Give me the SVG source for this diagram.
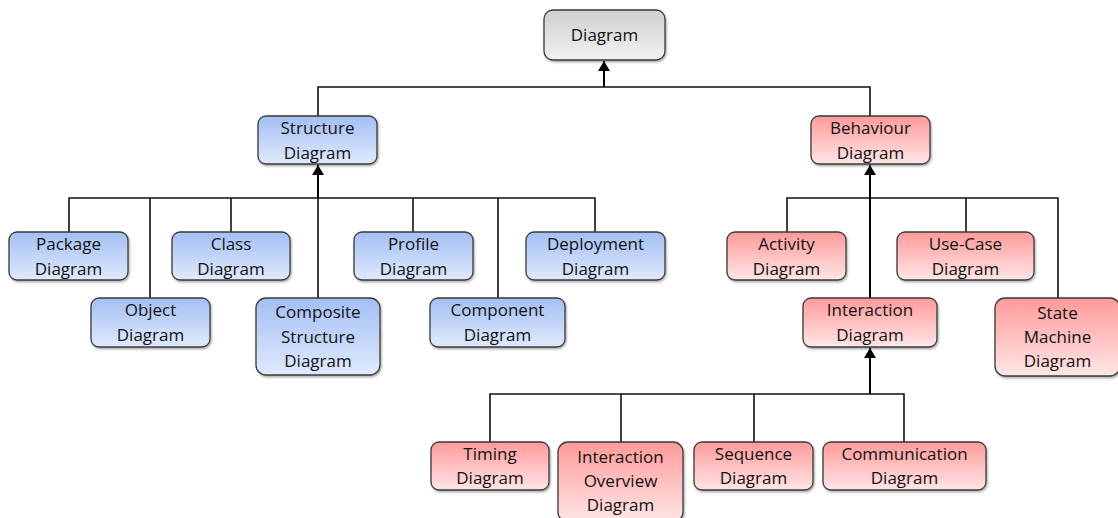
<svg xmlns="http://www.w3.org/2000/svg" width="1118" height="518" viewBox="0 0 1118 518">
  <defs>
    <linearGradient id="gGray" x1="0" y1="0" x2="0" y2="1">
      <stop offset="0" stop-color="#cfcfcf"/>
      <stop offset="1" stop-color="#f2f2f2"/>
    </linearGradient>
    <linearGradient id="gBlue" x1="0" y1="0" x2="0" y2="1">
      <stop offset="0" stop-color="#a3bff3"/>
      <stop offset="1" stop-color="#e0eafd"/>
    </linearGradient>
    <linearGradient id="gRed" x1="0" y1="0" x2="0" y2="1">
      <stop offset="0" stop-color="#ff9a9a"/>
      <stop offset="1" stop-color="#ffe6e6"/>
    </linearGradient>
    <filter id="shadow" x="-10%" y="-10%" width="130%" height="140%">
      <feDropShadow dx="1" dy="1.5" stdDeviation="1" flood-color="#000" flood-opacity="0.35"/>
    </filter>
    <!-- filled triangular head, tip at the end of the line -->
    <marker id="arrow" markerUnits="userSpaceOnUse" markerWidth="12" markerHeight="12" viewBox="0 0 10 12" refX="10" refY="6" orient="auto">
      <path d="M0,0 L10,6 L0,12 Z" fill="#000"/>
    </marker>
  </defs>
  <style>
    .box { stroke: #3a3a3a; stroke-width: 1.3; filter: url(#shadow); }
    .gray { fill: url(#gGray); }
    .blue { fill: url(#gBlue); }
    .red { fill: url(#gRed); }
    text { font-family: "Open Sans", "Liberation Sans", sans-serif; font-size: 17px; fill: #111; text-anchor: middle; }
    .line { fill: none; stroke: #111; stroke-width: 1.6; }
    .shaft { fill: none; stroke: #000; stroke-width: 2; }
  </style>

  <!-- connectors -->
  <g id="connectors">
    <!-- root level -->
    <path class="line" d="M318,116 V87 H870 V116"/>
    <line class="shaft" x1="604" y1="87" x2="604" y2="61" marker-end="url(#arrow)"/>
    <!-- structure children -->
    <path class="line" d="M69,232 V198 H595 V232"/>
    <line class="line" x1="150" y1="198" x2="150" y2="298"/>
    <line class="line" x1="231" y1="198" x2="231" y2="232"/>
    <line class="line" x1="318" y1="198" x2="318" y2="298"/>
    <line class="line" x1="413" y1="198" x2="413" y2="232"/>
    <line class="line" x1="498" y1="198" x2="498" y2="298"/>
    <line class="shaft" x1="318" y1="198" x2="318" y2="165" marker-end="url(#arrow)"/>
    <!-- behaviour children -->
    <path class="line" d="M787,232 V198 H1058 V298"/>
    <line class="line" x1="966" y1="198" x2="966" y2="232"/>
    <line class="shaft" x1="870" y1="298" x2="870" y2="165" marker-end="url(#arrow)"/>
    <!-- interaction children -->
    <path class="line" d="M490,442 V394 H904 V442"/>
    <line class="line" x1="621" y1="394" x2="621" y2="442"/>
    <line class="line" x1="754" y1="394" x2="754" y2="442"/>
    <line class="shaft" x1="870" y1="394" x2="870" y2="348" marker-end="url(#arrow)"/>
  </g>

  <!-- root -->
  <g id="diagram">
    <rect class="box gray" x="544" y="10" width="121" height="50" rx="9"/>
    <text x="604.5" y="41">Diagram</text>
  </g>

  <!-- structure branch -->
  <g id="structure-diagram">
    <rect class="box blue" x="258" y="116" width="119" height="48" rx="8"/>
    <text x="317.5" y="134">Structure</text>
    <text x="317.5" y="159">Diagram</text>
  </g>
  <g id="package-diagram">
    <rect class="box blue" x="9" y="232" width="119" height="48" rx="8"/>
    <text x="68.5" y="250">Package</text>
    <text x="68.5" y="275">Diagram</text>
  </g>
  <g id="object-diagram">
    <rect class="box blue" x="91" y="298" width="119" height="49" rx="8"/>
    <text x="150.5" y="316">Object</text>
    <text x="150.5" y="341">Diagram</text>
  </g>
  <g id="class-diagram">
    <rect class="box blue" x="172" y="232" width="118" height="48" rx="8"/>
    <text x="231" y="250">Class</text>
    <text x="231" y="275">Diagram</text>
  </g>
  <g id="composite-structure-diagram">
    <rect class="box blue" x="256" y="298" width="124" height="77" rx="10"/>
    <text x="318" y="318">Composite</text>
    <text x="318" y="343">Structure</text>
    <text x="318" y="367">Diagram</text>
  </g>
  <g id="profile-diagram">
    <rect class="box blue" x="354" y="232" width="119" height="48" rx="8"/>
    <text x="413.5" y="250">Profile</text>
    <text x="413.5" y="275">Diagram</text>
  </g>
  <g id="component-diagram">
    <rect class="box blue" x="430" y="298" width="135" height="49" rx="8"/>
    <text x="497.5" y="316">Component</text>
    <text x="497.5" y="341">Diagram</text>
  </g>
  <g id="deployment-diagram">
    <rect class="box blue" x="526" y="232" width="139" height="48" rx="8"/>
    <text x="595.5" y="250">Deployment</text>
    <text x="595.5" y="275">Diagram</text>
  </g>

  <!-- behaviour branch -->
  <g id="behaviour-diagram">
    <rect class="box red" x="811" y="116" width="119" height="48" rx="8"/>
    <text x="870.5" y="134">Behaviour</text>
    <text x="870.5" y="159">Diagram</text>
  </g>
  <g id="activity-diagram">
    <rect class="box red" x="727" y="232" width="119" height="48" rx="8"/>
    <text x="786.5" y="250">Activity</text>
    <text x="786.5" y="275">Diagram</text>
  </g>
  <g id="use-case-diagram">
    <rect class="box red" x="897" y="232" width="137" height="48" rx="8"/>
    <text x="965.5" y="250">Use-Case</text>
    <text x="965.5" y="275">Diagram</text>
  </g>
  <g id="interaction-diagram">
    <rect class="box red" x="803" y="298" width="134" height="49" rx="8"/>
    <text x="870" y="316">Interaction</text>
    <text x="870" y="341">Diagram</text>
  </g>
  <g id="state-machine-diagram">
    <rect class="box red" x="995" y="298" width="125" height="78" rx="10"/>
    <text x="1057.5" y="319">State</text>
    <text x="1057.5" y="343">Machine</text>
    <text x="1057.5" y="367">Diagram</text>
  </g>

  <!-- interaction branch -->
  <g id="timing-diagram">
    <rect class="box red" x="431" y="442" width="118" height="48" rx="8"/>
    <text x="490" y="460">Timing</text>
    <text x="490" y="484">Diagram</text>
  </g>
  <g id="interaction-overview-diagram">
    <rect class="box red" x="558" y="442" width="125" height="80" rx="10"/>
    <text x="620.5" y="463">Interaction</text>
    <text x="620.5" y="487">Overview</text>
    <text x="620.5" y="511">Diagram</text>
  </g>
  <g id="sequence-diagram">
    <rect class="box red" x="694" y="442" width="119" height="48" rx="8"/>
    <text x="753.5" y="460">Sequence</text>
    <text x="753.5" y="484">Diagram</text>
  </g>
  <g id="communication-diagram">
    <rect class="box red" x="823" y="442" width="163" height="48" rx="8"/>
    <text x="904.5" y="460">Communication</text>
    <text x="904.5" y="484">Diagram</text>
  </g>
</svg>
